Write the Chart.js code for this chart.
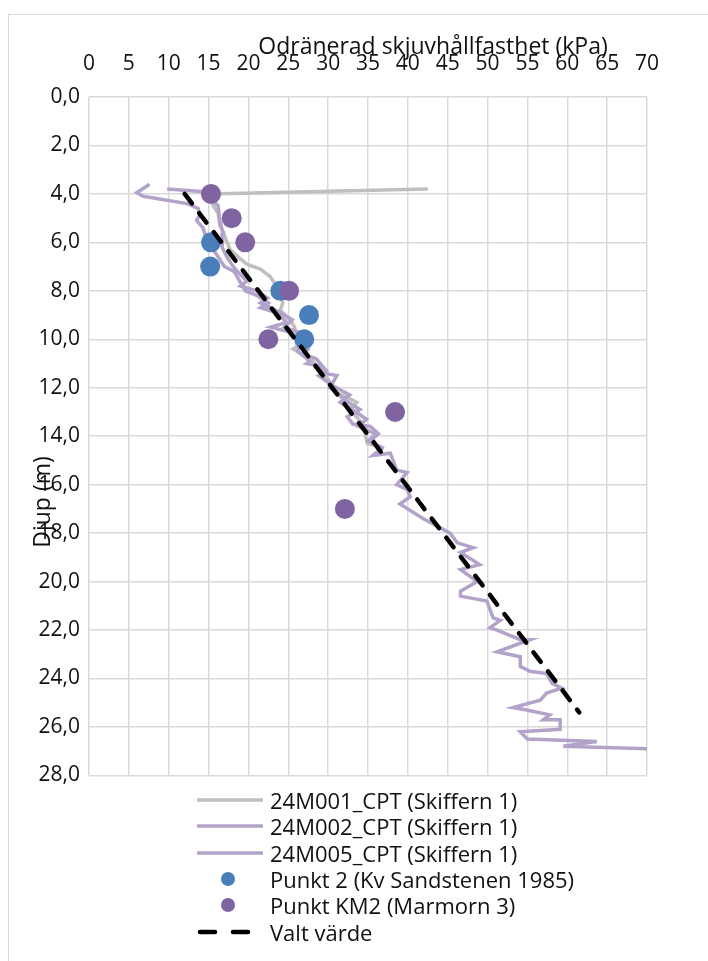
<!DOCTYPE html>
<html>
<head>
<meta charset="utf-8">
<title>Odränerad skjuvhållfasthet</title>
<script src="https://cdn.jsdelivr.net/npm/chart.js@4/dist/chart.umd.min.js"></script>
<style>
  body { margin: 0; background: #fff; font-family: 'Open Sans', sans-serif; }
  #frame { position: absolute; left: 8px; top: 14px; width: 760px; height: 1000px; border: 1px solid #d9d9d9; }
  #wrap { position: absolute; left: 0; top: 0; width: 708px; height: 797px; }
  #legend { position: absolute; left: 197px; top: 787px; font-size: 22px; color: #111; }
  .row { display: flex; align-items: center; height: 26.3px; white-space: nowrap; }
  .row svg { flex: none; margin-right: 7px; }
</style>
</head>
<body>
<div id="frame"></div>
<div id="wrap"><canvas id="grafDjup"></canvas></div>
<div id="legend"></div>
<script>
// 24M001_CPT (Skiffern 1)
const su001 = [42.5, 15.3, 15.6, 16.2, 16.4, 16.9, 17.2, 17.7, 18.7, 19.8, 21.5, 22.7, 23.1, 23.7, 24.0, 24.3, 24.0, 25.2, 25.8, 26.1, 25.6, 28.1, 29.9, 31.1, 33.6, 32.7, 34.4, 34.9, 36.0];
const djup001 = [3.8, 4.0, 4.5, 4.8, 5.3, 5.6, 5.9, 6.3, 6.6, 6.9, 7.1, 7.4, 7.6, 7.8, 8.2, 8.5, 8.8, 9.2, 9.5, 10.3, 10.4, 10.9, 11.6, 12.2, 12.6, 12.9, 13.5, 14.3, 14.4];

// 24M002_CPT (Skiffern 1)
const su002 = [9.8, 14.0, 15.2, 16.2, 16.4, 16.8, 16.7, 17.3, 18.1, 18.9, 19.8, 19.0, 21.0, 22.4, 21.5, 24.0, 25.5, 24.5, 26.2, 27.5, 26.8, 28.5, 29.8, 28.8, 30.5, 32.7, 31.5, 33.5, 34.8, 33.8, 36.0, 35.0, 37.0];
const djup002 = [3.8, 3.9, 4.1, 4.5, 5.1, 5.6, 6.2, 6.6, 7.0, 7.3, 7.6, 7.8, 8.0, 8.3, 8.5, 8.9, 9.2, 9.5, 9.7, 10.4, 10.6, 10.8, 11.3, 11.5, 11.9, 12.3, 12.6, 13.0, 13.3, 13.6, 13.9, 14.2, 14.5];

// 24M005_CPT (Skiffern 1)
const su005 = [7.6, 6.0, 6.8, 12.3, 13.7, 13.9, 13.5, 14.3, 14.8, 15.6, 16.4, 17.0, 18.2, 18.9, 19.6, 21.1, 22.5, 21.5, 23.5, 24.8, 22.8, 25.2, 26.5, 26.2, 27.7, 27.3, 29.0, 29.4, 31.1, 30.2, 31.1, 32.0, 34.0, 32.4, 33.1, 35.3, 36.3, 35.6, 36.3, 35.6, 37.8, 38.6, 39.9, 38.6, 39.9, 40.3, 39.0, 41.9, 45.3, 46.2, 48.2, 46.6, 49.0, 46.6, 48.7, 46.6, 46.6, 49.9, 50.7, 51.6, 50.3, 51.2, 54.1, 55.3, 51.2, 54.1, 54.1, 55.3, 57.4, 58.1, 59.3, 57.4, 56.6, 53.2, 54.9, 57.8, 57.0, 59.1, 59.1, 54.1, 55.0, 63.7, 59.5, 70.0];
const djup005 = [3.6, 3.95, 4.1, 4.4, 4.6, 4.85, 5.1, 5.4, 5.9, 6.3, 6.7, 7.0, 7.2, 7.6, 8.0, 8.2, 8.5, 8.7, 8.9, 9.3, 9.5, 9.7, 10.1, 10.5, 10.9, 11.0, 11.1, 11.4, 11.5, 12.0, 12.2, 12.5, 12.9, 13.2, 13.5, 13.6, 13.9, 14.1, 14.6, 14.8, 14.7, 15.4, 15.5, 16.0, 16.2, 16.5, 16.8, 17.4, 18.0, 18.4, 18.6, 18.8, 19.3, 19.5, 20.0, 20.4, 20.6, 20.8, 21.5, 21.6, 21.9, 22.0, 22.4, 22.4, 22.9, 23.1, 23.5, 23.7, 23.8, 24.2, 24.4, 24.6, 24.9, 25.2, 25.3, 25.5, 25.7, 25.7, 26.1, 26.2, 26.5, 26.6, 26.8, 26.9];

// Punkt 2 (Kv Sandstenen 1985)
const suPunkt2 = [15.3, 15.2, 24.0, 27.6, 27.0];
const djupPunkt2 = [6.0, 7.0, 8.0, 9.0, 10.0];

// Punkt KM2 (Marmorn 3)
const suKM2 = [15.3, 17.9, 19.6, 25.1, 22.5, 38.4, 32.1];
const djupKM2 = [4.0, 5.0, 6.0, 8.0, 10.0, 13.0, 17.0];

// Valt värde
const suValt = [12.0, 61.5];
const djupValt = [4.0, 25.4];

const textColor = '#111';
const gridColor = '#d9d9d9';

function punkter(xs, ys) {
    return xs.map((x, i) => ({ x: x, y: ys[i] }));
}

function linje(label, xs, ys, color, order) {
    return {
        label: label,
        data: punkter(xs, ys),
        showLine: true,
        borderColor: color,
        backgroundColor: color,
        borderWidth: 3.5,
        pointRadius: 0,
        tension: 0,
        order: order
    };
}

const datasets = [
    linje('24M001_CPT (Skiffern 1)', su001, djup001, '#bfbfbf', 5),
    linje('24M002_CPT (Skiffern 1)', su002, djup002, '#b3a2c9', 4),
    linje('24M005_CPT (Skiffern 1)', su005, djup005, '#b3a2c9', 3),
    {
        label: 'Punkt 2 (Kv Sandstenen 1985)',
        data: punkter(suPunkt2, djupPunkt2),
        showLine: false,
        pointRadius: 10,
        pointBackgroundColor: '#4a7ebb',
        pointBorderWidth: 0,
        backgroundColor: '#4a7ebb',
        order: 2
    },
    {
        label: 'Punkt KM2 (Marmorn 3)',
        data: punkter(suKM2, djupKM2),
        showLine: false,
        pointRadius: 10,
        pointBackgroundColor: '#8064a2',
        pointBorderWidth: 0,
        backgroundColor: '#8064a2',
        order: 1
    },
    {
        label: 'Valt värde',
        data: punkter(suValt, djupValt),
        showLine: true,
        borderColor: '#000',
        borderWidth: 4.5,
        borderDash: [12, 12],
        borderCapStyle: 'round',
        pointRadius: 0,
        order: 0
    }
];

// axeltitlar ritas själva så att de hamnar som i originalet
const axelTitlar = {
    id: 'axelTitlar',
    afterDraw(chart) {
        const c = chart.ctx;
        c.save();
        c.fillStyle = textColor;
        c.font = '23px "Open Sans"';
        c.textAlign = 'center';
        c.textBaseline = 'middle';
        c.fillText('Odränerad skjuvhållfasthet (kPa)', 433, 47);
        c.translate(43, 502);
        c.rotate(-Math.PI / 2);
        c.fillText('Djup (m)', 0, 0);
        c.restore();
    }
};

Chart.defaults.font.family = "'Open Sans', sans-serif";
Chart.defaults.color = textColor;

const chart = new Chart(document.getElementById('grafDjup'), {
    type: 'scatter',
    data: { datasets: datasets },
    options: {
        responsive: true,
        maintainAspectRatio: false,
        animation: false,
        layout: { padding: { left: 0, right: 61, top: 0, bottom: 15 } },
        plugins: {
            legend: { display: false },
            tooltip: { enabled: false }
        },
        scales: {
            x: {
                type: 'linear',
                position: 'top',
                min: 0,
                max: 70,
                ticks: { stepSize: 5, padding: 20, font: { size: 21 }, color: textColor },
                grid: { color: gridColor, lineWidth: 1.5, drawTicks: false },
                border: { display: false },
                afterFit: s => { s.height = 97; }
            },
            y: {
                type: 'linear',
                reverse: true,
                min: 0,
                max: 28,
                ticks: {
                    stepSize: 2,
                    padding: 9,
                    font: { size: 21 },
                    color: textColor,
                    callback: v => v.toFixed(1).replace('.', ',')
                },
                grid: { color: gridColor, lineWidth: 1.5, drawTicks: false },
                border: { display: false },
                afterFit: s => { s.width = 89; }
            }
        }
    },
    plugins: [axelTitlar]
});

// egen förklaring, en post per rad
const legendEl = document.getElementById('legend');
datasets.forEach(ds => {
    const rad = document.createElement('div');
    rad.className = 'row';
    let ikon;
    if (ds.showLine === false) {
        ikon = '<circle cx="31" cy="7" r="7" fill="' + ds.pointBackgroundColor + '"/>';
    } else if (ds.borderDash) {
        ikon = '<line x1="3" y1="7" x2="53" y2="7" stroke="#000" stroke-width="4.5" stroke-dasharray="15 18" stroke-linecap="round"/>';
    } else {
        ikon = '<line x1="0" y1="7" x2="66" y2="7" stroke="' + ds.borderColor + '" stroke-width="3.5"/>';
    }
    rad.innerHTML = '<svg width="66" height="14">' + ikon + '</svg><span>' + ds.label + '</span>';
    legendEl.appendChild(rad);
});
</script>
</body>
</html>
